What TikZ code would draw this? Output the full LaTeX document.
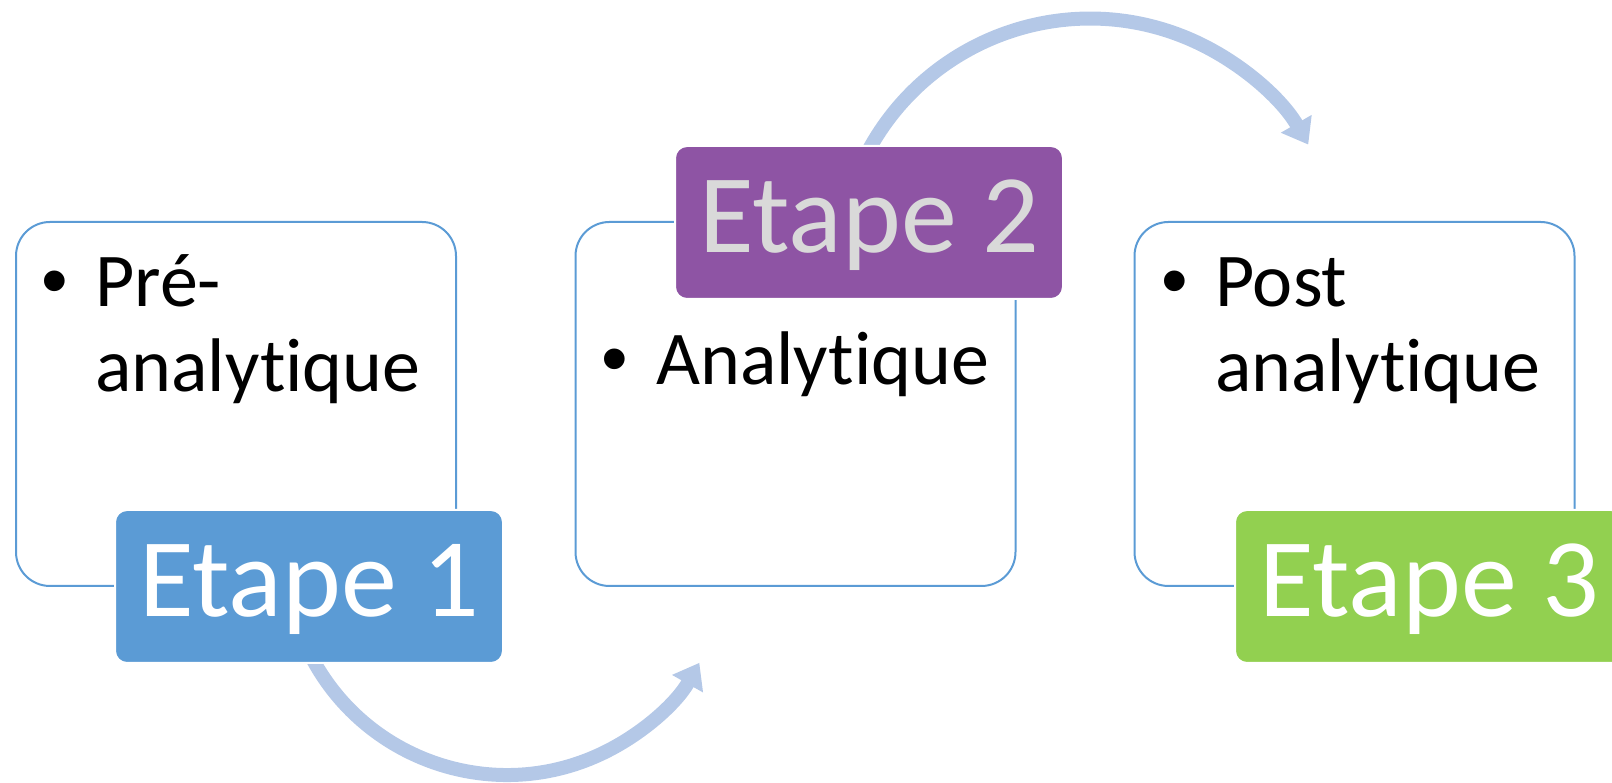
\documentclass[tikz,border=0pt]{standalone}
\usepackage{fontspec}
\setmainfont{Carlito}[Ligatures=NoCommon]
\newfontfamily\bulletfont{Liberation Sans}
\usetikzlibrary{arrows.meta}
\definecolor{frameblue}{HTML}{5B9BD5}
\definecolor{stepblue}{HTML}{5B9BD5}
\definecolor{steppurple}{HTML}{8E54A4}
\definecolor{stepgreen}{HTML}{92D050}
\definecolor{steptextgray}{HTML}{D9D9D9}
\definecolor{arrowblue}{HTML}{B4C8E7}

\begin{document}
\begin{tikzpicture}[x=1pt,y=1pt,
  panel/.style={draw=frameblue, line width=2pt, rounded corners=34pt,
    minimum width=440pt, minimum height=364pt, inner sep=0pt},
  stepbox/.style={draw=white, line width=2pt, rounded corners=12pt,
    minimum width=388pt, inner sep=0pt, text height=107pt, text depth=46pt,
    font=\fontsize{112}{134}\selectfont},
  itemtext/.style={anchor=base west, inner sep=0pt, align=left,
    font=\fontsize{76}{85}\selectfont},
  bulletmark/.style={anchor=base, inner sep=0pt,
    font=\bulletfont\fontsize{76}{85}\selectfont},
  flow/.style={draw=arrowblue, line width=14pt,
    -{Triangle[length=24pt,width=34pt]}}
]
\useasboundingbox (0,0) rectangle (1612,783);

% content panels
\node[panel] (p1) at (236,379) {};
\node[panel] (p2) at (795.5,379) {};
\node[panel] (p3) at (1354.5,379) {};

% panel contents (base anchor of a two-line node sits on its last line)
\node[bulletmark] (b1) at (55,476) {•};
\node[itemtext] (t1) at (95,391) {Pré-\\analytique};
\node[bulletmark] (b2) at (615,398) {•};
\node[itemtext] (t2) at (656,398) {Analytique};
\node[bulletmark] (b3) at (1175,476) {•};
\node[itemtext] (t3) at (1215,391) {Post\\analytique};

% curved arrows between the steps
\coordinate (lowc) at (507,229);
\coordinate (highc) at (1090,512.4);
\draw[flow] ([shift={(205:221)}]lowc) arc[start angle=205, end angle=330.5, radius=221];
\draw[flow] ([shift={(155:252)}]highc) arc[start angle=155, end angle=30, radius=252];

% step labels
\node[stepbox, fill=stepblue, text=white] (e1) at (309,196.5) {Etape 1};
\node[stepbox, fill=steppurple, text=steptextgray] (e2) at (869,560.5) {Etape 2};
\node[stepbox, fill=stepgreen, text=white] (e3) at (1429,196.5) {Etape 3};
\end{tikzpicture}
\end{document}
